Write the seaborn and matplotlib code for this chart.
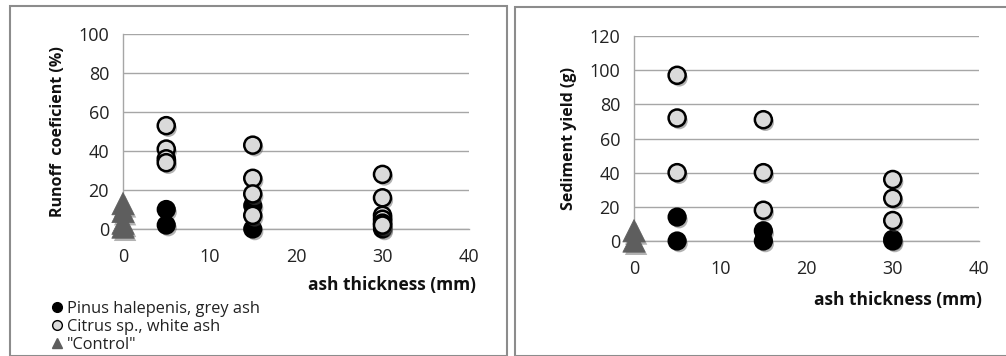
import numpy as np
import pandas as pd
import seaborn as sns
import matplotlib
matplotlib.use("Agg")
import matplotlib.pyplot as plt
import matplotlib.patheffects as pe
from matplotlib.patches import Rectangle
from matplotlib.lines import Line2D

# ---- data ----
runoff_pinus_x = [5, 5, 15, 15, 30, 30]
runoff_pinus_y = [10, 2, 12, 0, 1, 0]
runoff_citrus_x = [5, 5, 5, 5, 15, 15, 15, 15, 30, 30, 30, 30, 30, 30]
runoff_citrus_y = [53, 41, 36, 34, 43, 26, 18, 7, 28, 16, 7, 5, 3, 2]
runoff_control_x = [0, 0, 0, 0]
runoff_control_y = [13, 9, 3, 1]

sed_pinus_x = [5, 5, 15, 15, 30, 30]
sed_pinus_y = [14, 0, 6, 0, 1, 0]
sed_citrus_x = [5, 5, 5, 15, 15, 15, 30, 30, 30]
sed_citrus_y = [97, 72, 40, 71, 40, 18, 36, 25, 12]
sed_control_x = [0, 0]
sed_control_y = [6, 0]

x_ticks = [0, 10, 20, 30, 40]
runoff_ticks = [0, 20, 40, 60, 80, 100]
sed_ticks = [0, 20, 40, 60, 80, 100, 120]

series_labels = ["Pinus halepenis, grey ash", "Citrus sp., white ash", '"Control"']

sns.set_style("white")
plt.rcParams['font.family'] = ['Open Sans', 'DejaVu Sans']

W, H = 1006, 356
fig = plt.figure(figsize=(W / 100, H / 100), dpi=100)

def ax_rect(l, r, t, b):
    return [l / W, (H - b) / H, (r - l) / W, (b - t) / H]

shadow = [pe.SimplePatchShadow(offset=(1.5, -2), shadow_rgbFace='#555555', alpha=0.45), pe.Normal()]

def draw_panel(ax, px, py, cx, cy, kx, ky, yticks, ylabel):
    dp = pd.DataFrame({"x": px, "y": py})
    dc = pd.DataFrame({"x": cx, "y": cy})
    dk = pd.DataFrame({"x": kx, "y": ky})
    sns.scatterplot(data=dp, x="x", y="y", ax=ax, s=150, color="black",
                    edgecolor="black", linewidth=1.6, zorder=3, clip_on=False)
    sns.scatterplot(data=dc, x="x", y="y", ax=ax, s=150, color="#dadada",
                    edgecolor="black", linewidth=1.8, zorder=4, clip_on=False)
    sns.scatterplot(data=dk, x="x", y="y", ax=ax, s=260, marker="^", color="#5e5e5e",
                    edgecolor="#5e5e5e", linewidth=0.5, zorder=5, clip_on=False)
    for coll in ax.collections:
        coll.set_path_effects(shadow)
    ax.set_xlim(0, 40)
    ax.set_ylim(yticks[0], yticks[-1])
    ax.set_xticks(x_ticks)
    ax.set_yticks(yticks)
    ax.grid(axis="y", color="#a6a6a6", linewidth=1)
    ax.grid(axis="x", visible=False)
    for s in ["top", "right"]:
        ax.spines[s].set_visible(False)
    ax.spines["left"].set_color("#a6a6a6")
    ax.spines["bottom"].set_color("#a6a6a6")
    ax.spines["left"].set_linewidth(1)
    ax.spines["bottom"].set_linewidth(1)
    ax.tick_params(axis="x", direction="out", length=6, width=1, color="#a6a6a6",
                   pad=8, labelsize=13, labelcolor="#222222")
    ax.tick_params(axis="y", direction="out", length=6, width=1, color="#a6a6a6",
                   pad=4, labelsize=13, labelcolor="#222222")
    ax.set_xlabel("")
    ax.set_ylabel(ylabel, fontsize=11.5, fontweight="bold", color="#111111", labelpad=9)
    ax.set_axisbelow(True)

# panel frames
fig.patches.append(Rectangle((10 / W, 0), (507 - 10) / W, (H - 10) / H + 0.01,
                             transform=fig.transFigure, fill=False,
                             edgecolor="#8c8c8c", linewidth=1.5))
fig.patches.append(Rectangle((515 / W, 0), (1010 - 515) / W, (H - 11) / H + 0.01,
                             transform=fig.transFigure, fill=False,
                             edgecolor="#8c8c8c", linewidth=1.5))

ax1 = fig.add_axes(ax_rect(123, 469, 34, 229))
draw_panel(ax1, runoff_pinus_x, runoff_pinus_y, runoff_citrus_x, runoff_citrus_y,
           runoff_control_x, runoff_control_y, runoff_ticks, "Runoff  coeficient (%)")
fig.text(476 / W, 1 - 285 / H, "ash thickness (mm)", ha="right", va="center",
         fontsize=12.5, fontweight="bold", color="#111111")

ax2 = fig.add_axes(ax_rect(634, 979, 36, 241))
draw_panel(ax2, sed_pinus_x, sed_pinus_y, sed_citrus_x, sed_citrus_y,
           sed_control_x, sed_control_y, sed_ticks, "Sediment yield (g)")
fig.text(982 / W, 1 - 300 / H, "ash thickness (mm)", ha="right", va="center",
         fontsize=12.5, fontweight="bold", color="#111111")

handles = [
    Line2D([], [], marker="o", linestyle="", markersize=7, markerfacecolor="black",
           markeredgecolor="black"),
    Line2D([], [], marker="o", linestyle="", markersize=7, markerfacecolor="#dadada",
           markeredgecolor="black", markeredgewidth=1),
    Line2D([], [], marker="^", linestyle="", markersize=7, markerfacecolor="#5e5e5e",
           markeredgecolor="#5e5e5e"),
]
fig.legend(handles, series_labels, loc="upper left",
           bbox_to_anchor=(44 / W, 1 - 293 / H), frameon=False, fontsize=11.8,
           handlelength=0.6, handletextpad=0.3, labelspacing=0.12, borderpad=0,
           labelcolor="#222222")

fig.savefig("out.png", dpi=100)
